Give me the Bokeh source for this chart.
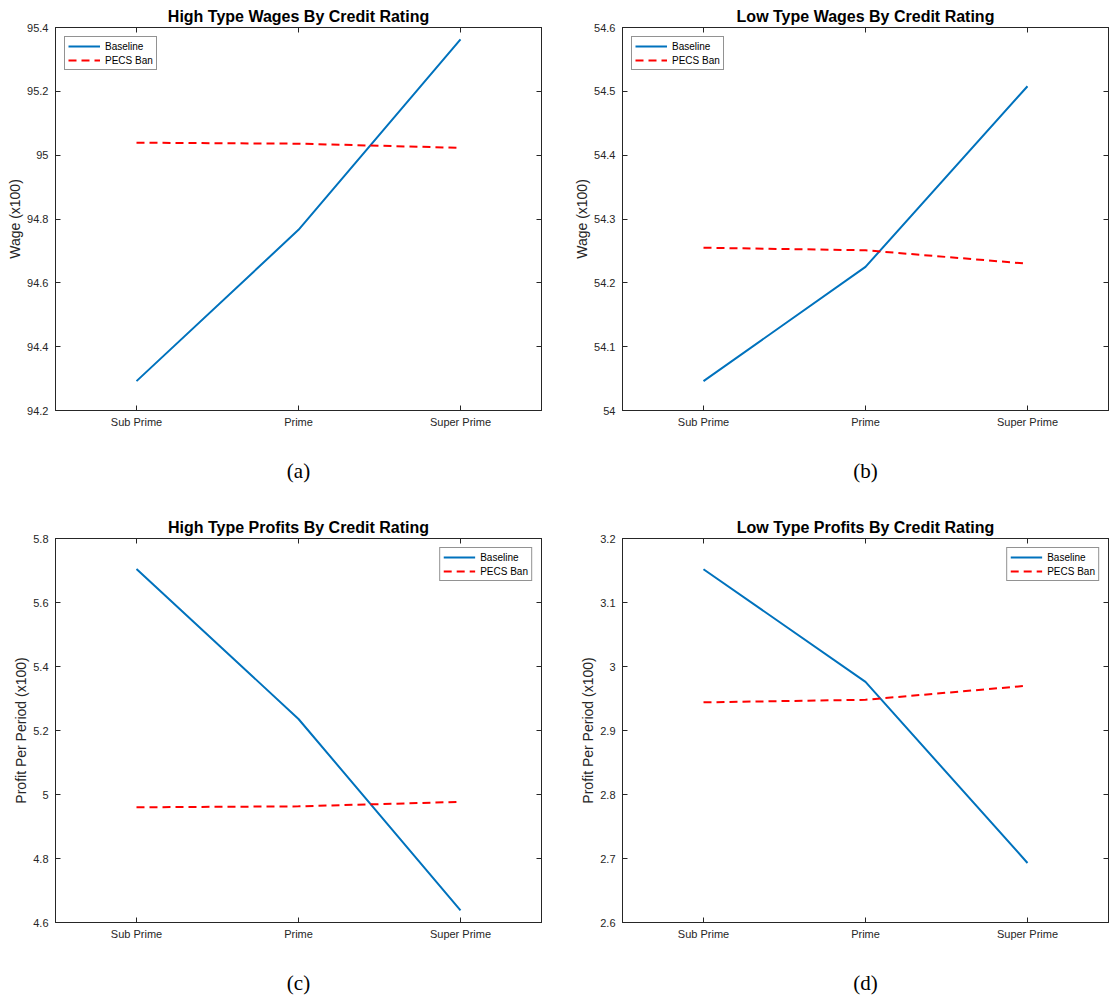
from bokeh.plotting import figure
from bokeh.models import (Range1d, FixedTicker, LinearAxis, CustomJSTickFormatter,
                          Legend, LegendItem)
from bokeh.layouts import column, row
from bokeh.embed import file_html
from bokeh.resources import INLINE

categories = ["Sub Prime", "Prime", "Super Prime"]

a_base = [94.292, 94.766, 95.363]
a_pecs = [95.039, 95.036, 95.023]
b_base = [54.046, 54.225, 54.508]
b_pecs = [54.255, 54.251, 54.230]
c_base = [5.705, 5.236, 4.638]
c_pecs = [4.960, 4.963, 4.977]
d_base = [3.152, 2.976, 2.693]
d_pecs = [2.944, 2.948, 2.970]

a_ticks = [94.2, 94.4, 94.6, 94.8, 95.0, 95.2, 95.4]
b_ticks = [54.0, 54.1, 54.2, 54.3, 54.4, 54.5, 54.6]
c_ticks = [4.6, 4.8, 5.0, 5.2, 5.4, 5.6, 5.8]
d_ticks = [2.6, 2.7, 2.8, 2.9, 3.0, 3.1, 3.2]

titles = ["High Type Wages By Credit Rating", "Low Type Wages By Credit Rating",
          "High Type Profits By Credit Rating", "Low Type Profits By Credit Rating"]
ylabels = ["Wage (x100)", "Wage (x100)", "Profit Per Period (x100)", "Profit Per Period (x100)"]
sublabels = ["(a)", "(b)", "(c)", "(d)"]

AX = "#262626"
FONT = "Liberation Sans"

xpos = list(range(1, len(categories) + 1))


def style_axis(ax):
    ax.axis_line_color = AX
    ax.major_tick_line_color = AX
    ax.major_tick_in = 5
    ax.major_tick_out = 0
    ax.minor_tick_line_color = None
    ax.major_label_text_font = FONT
    ax.major_label_text_font_size = "11px"
    ax.major_label_text_color = AX
    ax.axis_label_text_font_style = "normal"


def panel(title, ylabel, sub, base, pecs, ticks, width, bl, br, bt, bb, legend_loc):
    p = figure(width=width, height=500, output_backend="svg", toolbar_location=None,
               x_range=Range1d(0.5, len(categories) + 0.5),
               y_range=Range1d(ticks[0], ticks[-1]),
               min_border_left=bl, min_border_right=br, min_border_top=bt, min_border_bottom=bb)
    p.title.text = title
    p.title.align = "center"
    p.title.text_font = FONT
    p.title.text_font_size = "16px"
    p.title.text_font_style = "bold"
    p.title.text_color = "black"
    p.title.standoff = 6
    p.grid.visible = False
    p.outline_line_color = AX
    p.outline_line_width = 1
    p.background_fill_color = "white"
    p.border_fill_color = "white"

    r1 = p.line(xpos, base, line_color="#0072BD", line_width=2)
    r2 = p.line(xpos, pecs, line_color="#FF0000", line_width=2, line_dash="8 5")

    xa = p.xaxis[0]
    ya = p.yaxis[0]
    style_axis(xa)
    style_axis(ya)
    xa.ticker = FixedTicker(ticks=xpos)
    xa.major_label_overrides = {x: c for x, c in zip(xpos, categories)}
    xa.major_label_standoff = 5
    xa.axis_label = sub
    xa.axis_label_text_font = "Liberation Serif"
    xa.axis_label_text_font_size = "21px"
    xa.axis_label_text_color = "black"
    xa.axis_label_standoff = 28
    ya.ticker = FixedTicker(ticks=ticks)
    ya.formatter = CustomJSTickFormatter(code="return String(parseFloat(tick.toFixed(4)));")
    ya.major_label_standoff = 7
    ya.axis_label = ylabel
    ya.axis_label_text_font = FONT
    ya.axis_label_text_font_size = "14px"
    ya.axis_label_text_color = AX
    ya.axis_label_standoff = 1

    # box ticks on right and top
    ra = LinearAxis(ticker=FixedTicker(ticks=ticks),
                    formatter=CustomJSTickFormatter(code="return '';"))
    style_axis(ra)
    ra.major_label_standoff = 0
    p.add_layout(ra, "right")

    ta = LinearAxis(ticker=FixedTicker(ticks=xpos),
                    formatter=CustomJSTickFormatter(code="return '';"))
    style_axis(ta)
    ta.major_label_standoff = 0
    p.add_layout(ta, "above")

    leg = Legend(items=[LegendItem(label="Baseline", renderers=[r1]),
                        LegendItem(label="PECS Ban", renderers=[r2])],
                 location=legend_loc)
    leg.label_text_font = FONT
    leg.label_text_font_size = "10px"
    leg.label_text_color = "black"
    leg.label_height = 12
    leg.glyph_height = 12
    leg.glyph_width = 32
    leg.label_standoff = 5
    leg.spacing = 2
    leg.padding = 3
    leg.margin = 9
    leg.border_line_color = AX
    leg.border_line_width = 1
    leg.background_fill_alpha = 1
    p.add_layout(leg, "center")
    return p


pa = panel(titles[0], ylabels[0], sublabels[0], a_base, a_pecs, a_ticks, 570, 55, 29, 27, 90, "top_left")
pb = panel(titles[1], ylabels[1], sublabels[1], b_base, b_pecs, b_ticks, 539, 52, 1, 27, 90, "top_left")
pc = panel(titles[2], ylabels[2], sublabels[2], c_base, c_pecs, c_ticks, 570, 55, 29, 38, 78, "top_right")
pd_ = panel(titles[3], ylabels[3], sublabels[3], d_base, d_pecs, d_ticks, 539, 52, 1, 38, 78, "top_right")

layout = column(row(pa, pb, spacing=0), row(pc, pd_, spacing=0), spacing=0)
open("out.html", "w").write(file_html(layout, INLINE))
